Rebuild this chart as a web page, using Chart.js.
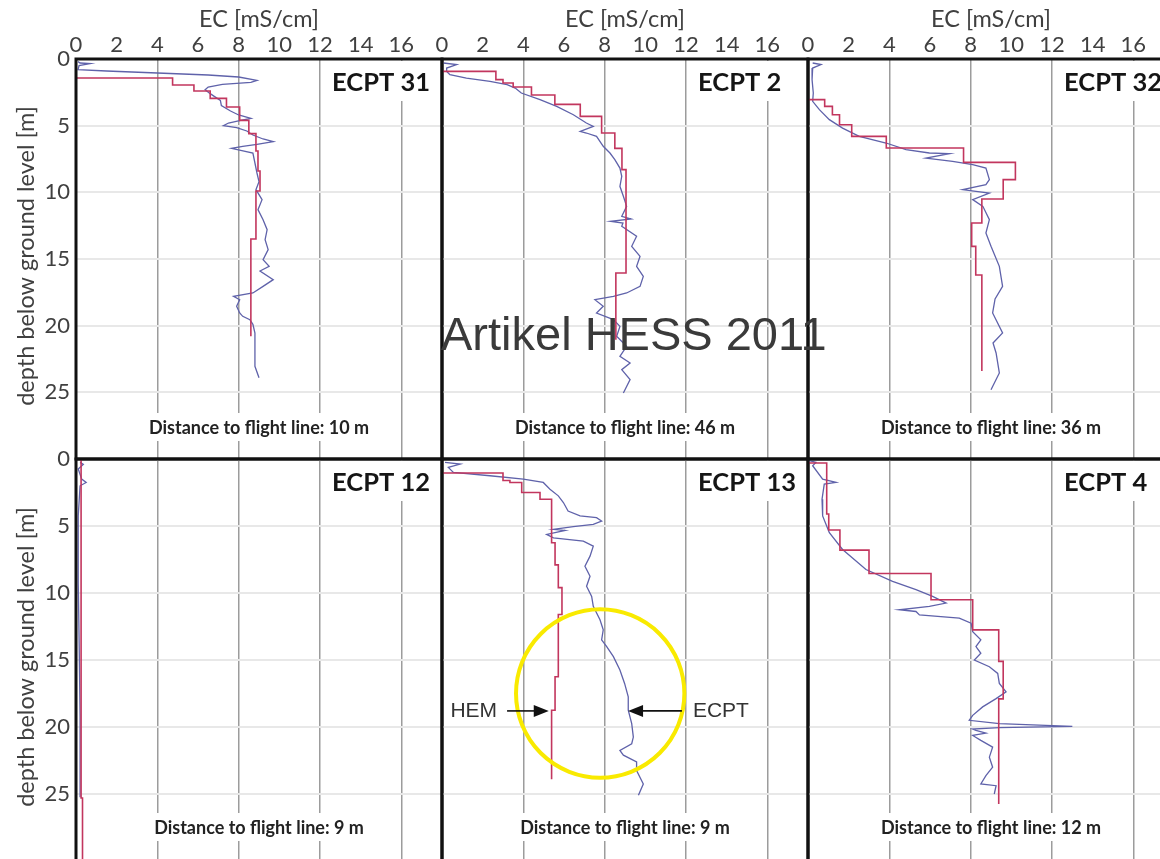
<!DOCTYPE html>
<html>
<head>
<meta charset="utf-8">
<script src="https://cdn.jsdelivr.net/npm/chart.js@4.4.0/dist/chart.umd.min.js"></script>
<style>
  html, body { margin: 0; padding: 0; background: #fff; }
  #wrap { position: relative; width: 1160px; height: 859px; overflow: hidden; background: #fff; }
  #wrap canvas { position: absolute; left: 0; top: 0; }
  #stamp {
    position: absolute; left: 441px; top: 310px;
    font: 47px "Liberation Sans", Arial, sans-serif; line-height: 47px;
    color: #3a3a3a; white-space: nowrap;
  }
</style>
</head>
<body>
<div id="wrap">
  <canvas id="p31" width="1200" height="900"></canvas>
  <canvas id="p2" width="1200" height="900"></canvas>
  <canvas id="p32" width="1200" height="900"></canvas>
  <canvas id="p12" width="1200" height="900"></canvas>
  <canvas id="p13" width="1200" height="900"></canvas>
  <canvas id="p4" width="1200" height="900"></canvas>
  <div id="stamp">Artikel HESS 2011</div>
</div>
<script>
// ---- data (depth in m, EC in mS/cm) ----
const xTicksMax = 16;
const xTitle = 'EC [mS/cm]';
const yTitle = 'depth below ground level [m]';

// ECPT 31
const hem31Depth = [0, 1.43, 1.95, 2.4, 2.95, 3.6, 4.6, 5.6, 6.9, 8.4, 9.9, 13.5];
const hem31EC    = [0, 4.75, 5.8, 6.6, 7.4, 8.05, 8.5, 8.85, 8.95, 9.05, 8.85, 8.6];
const hem31End = 20.8;
const ecpt31Depth = [0.2, 0.3, 0.35, 0.5, 0.8, 0.9, 1.05, 1.2, 1.35, 1.6, 1.75, 1.9, 2.1, 2.3, 2.6, 2.8, 3.1, 3.5, 3.9, 4.2, 4.45, 4.6, 4.8, 5.0, 5.15, 5.4, 5.7, 6.0, 6.2, 6.4, 6.55, 6.7, 6.85, 7.05, 7.8, 8.55, 9.2, 9.8, 10.55, 11.3, 12.05, 12.8, 13.55, 14.3, 15.05, 15.55, 15.9, 16.55, 17.05, 17.55, 17.8, 18.05, 18.55, 19.05, 19.3, 19.55, 19.9, 20.55, 21.8, 23.05, 23.9];
const ecpt31EC    = [0.1, 0.2, 0.7, 0.15, 0.1, 1.5, 4.0, 6.5, 8.0, 8.9, 8.6, 7.2, 6.5, 6.35, 6.6, 6.8, 7.1, 7.15, 7.6, 8.0, 8.6, 8.1, 7.5, 7.25, 7.9, 8.4, 8.7, 9.2, 9.7, 8.9, 8.2, 7.65, 8.1, 8.7, 8.8, 8.9, 9.0, 8.85, 9.15, 8.95, 9.2, 9.4, 9.3, 9.45, 9.2, 9.5, 9.05, 9.7, 9.2, 8.7, 7.75, 8.05, 7.9, 8.05, 8.2, 8.55, 8.7, 8.8, 8.8, 8.8, 9.0];

// ECPT 2
const hem2Depth = [0, 0.93, 1.55, 1.8, 2.1, 2.7, 3.4, 4.3, 5.55, 6.7, 8.3, 16.05];
const hem2EC    = [0, 2.65, 3.0, 3.5, 4.4, 5.55, 6.8, 7.85, 8.5, 8.85, 9.05, 8.55];
const hem2End = 21.05;
const ecpt2Depth = [0.3, 0.42, 0.68, 0.93, 1.18, 1.43, 1.68, 1.93, 2.18, 2.55, 3.05, 3.55, 4.18, 4.8, 5.05, 5.43, 5.55, 5.8, 6.55, 7.05, 7.55, 8.18, 8.8, 9.55, 10.3, 11.05, 11.8, 12.0, 12.18, 12.3, 12.55, 13.3, 14.05, 14.8, 15.55, 16.3, 17.05, 17.55, 17.8, 18.05, 18.55, 19.05, 19.55, 20.05, 20.8, 21.55, 22.3, 22.8, 23.3, 24.05, 25.05];
const ecpt2EC    = [0.07, 0.72, 0.23, 0.23, 0.39, 1.2, 2.36, 3.2, 3.6, 3.9, 4.82, 5.64, 6.46, 7.1, 7.44, 6.8, 7.1, 7.6, 7.93, 8.26, 8.5, 8.75, 8.84, 8.75, 8.92, 9.08, 8.84, 9.3, 8.3, 8.9, 8.84, 9.57, 9.33, 9.74, 9.57, 9.9, 9.74, 9.08, 8.43, 7.52, 7.93, 7.6, 8.43, 8.75, 8.59, 9.08, 8.75, 9.25, 8.84, 9.25, 8.92];

// ECPT 32
const hem32Depth = [0, 3.05, 3.55, 4.18, 4.93, 5.8, 6.68, 7.75, 9.05, 10.5, 12.3, 14.05, 16.2];
const hem32EC    = [0, 0.82, 1.2, 1.55, 2.15, 3.85, 7.65, 10.2, 9.6, 8.55, 8.05, 8.25, 8.55];
const hem32End = 23.4;
const ecpt32Depth = [0.3, 0.42, 0.68, 1.55, 2.55, 3.18, 3.8, 4.55, 5.18, 5.8, 6.3, 6.8, 7.05, 7.1, 7.43, 7.68, 7.93, 8.18, 9.05, 9.43, 9.8, 9.93, 10.05, 10.55, 11.05, 12.05, 13.05, 14.05, 15.55, 17.05, 18.0, 19.05, 20.55, 21.3, 22.05, 23.55, 24.8];
const ecpt32EC    = [0.23, 0.64, 0.23, 0.2, 0.26, 0.23, 0.56, 1.05, 1.7, 2.52, 3.84, 4.82, 5.97, 6.95, 5.8, 7.11, 8.1, 8.75, 8.92, 8.75, 7.61, 8.26, 8.92, 8.1, 8.6, 8.92, 8.75, 9.0, 9.41, 9.57, 9.2, 9.08, 9.57, 9.1, 9.25, 9.41, 9.0];

// ECPT 12
const hem12Depth = [0, 25.3];
const hem12EC    = [0.25, 0.32];
const hem12End = 30;
const ecpt12Depth = [0.25, 0.4, 0.75, 1.5, 1.75, 2.0, 4.25, 9.25, 14.25, 19.25, 25.25];
const ecpt12EC    = [0.2, 0.36, 0.11, 0.28, 0.5, 0.2, 0.11, 0.11, 0.16, 0.2, 0.2];

// ECPT 13
const hem13Depth = [0, 1.05, 1.6, 1.75, 2.5, 3.0, 6.25, 7.9, 9.6, 11.6, 16.25, 18.75];
const hem13EC    = [0, 3.0, 3.34, 3.92, 4.82, 5.39, 5.56, 5.72, 5.9, 5.72, 5.56, 5.39];
const hem13End = 23.9;
const ecpt13Depth = [0.25, 0.38, 0.63, 1.0, 1.25, 1.5, 1.75, 2.25, 2.75, 3.25, 3.88, 4.25, 4.38, 4.63, 4.88, 5.05, 5.25, 5.33, 5.63, 5.88, 6.13, 6.5, 7.25, 8.0, 8.75, 9.5, 10.25, 11.0, 12.0, 12.75, 13.5, 14.0, 14.75, 15.75, 16.75, 17.75, 18.75, 19.75, 20.75, 21.25, 21.75, 22.1, 22.6, 23.25, 24.25, 25.1];
const ecpt13EC    = [0.15, 0.9, 0.31, 0.56, 2.36, 4.0, 4.98, 5.31, 5.72, 5.97, 6.2, 6.79, 7.6, 7.85, 7.44, 6.46, 5.48, 6.05, 5.15, 5.48, 6.95, 7.44, 7.28, 7.03, 7.28, 7.11, 7.36, 7.44, 7.77, 7.93, 7.85, 8.1, 8.43, 8.75, 8.98, 9.16, 9.16, 9.33, 9.41, 9.33, 8.75, 8.92, 9.57, 9.57, 9.9, 9.66];

// ECPT 4
const hem4Depth = [0, 0.3, 4.1, 5.3, 6.8, 8.55, 10.5, 12.75, 15.1, 17.9];
const hem4EC    = [0, 0.92, 1.02, 1.57, 3.0, 6.05, 8.1, 9.38, 9.6, 9.38];
const hem4End = 25.75;
const ecpt4Depth = [0.13, 0.25, 0.5, 1.5, 1.75, 1.88, 3.0, 4.25, 5.5, 6.75, 8.25, 9.13, 9.75, 10.25, 10.75, 11.0, 11.25, 11.38, 11.63, 11.88, 12.25, 12.88, 13.5, 14.0, 14.5, 15.0, 15.5, 16.0, 16.75, 17.38, 17.88, 18.5, 19.13, 19.5, 19.75, 19.95, 20.05, 20.15, 20.25, 20.45, 20.63, 21.0, 21.5, 22.25, 23.0, 23.63, 24.25, 24.38, 25.0];
const ecpt4EC    = [0.07, 0.39, 0.23, 0.72, 1.38, 0.8, 0.69, 0.72, 1.05, 1.7, 2.85, 4.16, 5.31, 6.13, 6.79, 5.97, 4.49, 5.31, 5.48, 7.44, 8.02, 8.1, 8.5, 8.26, 8.5, 8.18, 8.92, 9.33, 9.41, 9.74, 9.25, 8.59, 8.1, 7.93, 9.41, 13.0, 9.41, 8.1, 8.26, 8.75, 8.1, 8.5, 9.08, 8.92, 9.08, 8.75, 8.5, 9.25, 9.16];

// annotation of ECPT 13 (data units)
const ringCenter = [7.78, 17.5];
const ringRadiusEC = 4.14;
const hemArrow = { text: 'HEM', from: 3.2, to: 5.25, depth: 18.8 };
const ecptArrow = { text: 'ECPT', from: 11.8, to: 9.15, depth: 18.8 };

// ---- layout ----
const colLeft = [76, 442, 808];
const rowTop = [59, 459];
const rowHeight = [400, 402];
const panelWidth = 366;
const CW = 1200, CH = 900;

const fontFamily = 'Lato, "Open Sans", sans-serif';
const hemColor = '#c2365e';
const ecptColor = '#5f62aa';

function toPoints(depths, ecs) {
  return depths.map((d, i) => ({ x: ecs[i], y: d }));
}
function hemPoints(depths, ecs, end) {
  const pts = toPoints(depths, ecs);
  pts.push({ x: ecs[ecs.length - 1], y: end });
  return pts;
}

// frame round each panel
const framePlugin = {
  id: 'frame',
  afterDraw(chart) {
    const { ctx, chartArea: a } = chart;
    ctx.save();
    ctx.strokeStyle = '#111';
    ctx.lineWidth = 3;
    ctx.strokeRect(a.left, a.top, a.right - a.left, a.bottom - a.top);
    ctx.restore();
  }
};

// panel name, distance text, y title
const labelPlugin = {
  id: 'labels',
  beforeDatasetsDraw(chart, args, opts) {
    const { ctx, chartArea: a } = chart;
    ctx.save();
    ctx.fillStyle = '#fff';
    ctx.fillRect(a.left + 250, a.top + 2, a.right - a.left - 252, 40);
    ctx.font = 'bold 25.5px ' + fontFamily;
    ctx.fillStyle = '#151515';
    ctx.textAlign = 'left';
    ctx.textBaseline = 'middle';
    ctx.fillText(opts.name, a.left + 256, a.top + 24);

    ctx.font = 'bold 18px ' + fontFamily;
    const w = ctx.measureText(opts.distance).width;
    const cx = (a.left + a.right) / 2;
    ctx.fillStyle = '#fff';
    ctx.fillRect(cx - w / 2 - 5, a.top + 354, w + 10, 28);
    ctx.fillStyle = '#222';
    ctx.textAlign = 'center';
    ctx.fillText(opts.distance, cx, a.top + 369);

    if (opts.yTitle) {
      ctx.save();
      ctx.translate(a.left - 50, (a.top + a.bottom) / 2 - 3);
      ctx.rotate(-Math.PI / 2);
      ctx.font = '23.5px ' + fontFamily;
      ctx.fillStyle = '#404040';
      ctx.textAlign = 'center';
      ctx.textBaseline = 'middle';
      ctx.fillText(yTitle, 0, 0);
      ctx.restore();
    }
    ctx.restore();
  }
};

function drawArrow(ctx, x1, x2, y) {
  const dir = x2 > x1 ? 1 : -1;
  ctx.beginPath();
  ctx.moveTo(x1, y);
  ctx.lineTo(x2 - dir * 12, y);
  ctx.stroke();
  ctx.beginPath();
  ctx.moveTo(x2, y);
  ctx.lineTo(x2 - dir * 15, y - 6);
  ctx.lineTo(x2 - dir * 15, y + 6);
  ctx.closePath();
  ctx.fill();
}

const notePlugin = {
  id: 'note',
  afterDatasetsDraw(chart, args, opts) {
    if (!opts.show) return;
    const { ctx, scales: { x, y } } = chart;
    ctx.save();
    const cx = x.getPixelForValue(ringCenter[0]);
    const cy = y.getPixelForValue(ringCenter[1]);
    const r = x.getPixelForValue(ringCenter[0] + ringRadiusEC) - cx;
    ctx.strokeStyle = '#f9ea00';
    ctx.lineWidth = 4;
    ctx.beginPath();
    ctx.arc(cx, cy, r, 0, Math.PI * 2);
    ctx.stroke();

    ctx.strokeStyle = '#111';
    ctx.fillStyle = '#111';
    ctx.lineWidth = 1.6;
    const hy = y.getPixelForValue(hemArrow.depth);
    drawArrow(ctx, x.getPixelForValue(hemArrow.from), x.getPixelForValue(hemArrow.to), hy);
    const ey = y.getPixelForValue(ecptArrow.depth);
    drawArrow(ctx, x.getPixelForValue(ecptArrow.from), x.getPixelForValue(ecptArrow.to), ey);

    ctx.font = '21px "Liberation Sans", Arial, sans-serif';
    ctx.fillStyle = '#333';
    ctx.textBaseline = 'middle';
    ctx.textAlign = 'right';
    ctx.fillText(hemArrow.text, x.getPixelForValue(hemArrow.from) - 10, hy);
    ctx.textAlign = 'left';
    ctx.fillText(ecptArrow.text, x.getPixelForValue(ecptArrow.from) + 11, ey);
    ctx.restore();
  }
};

function makePanel(id, col, row, name, distance, hem, ecpt, note) {
  const showX = row === 0;
  const showY = col === 0;
  const L = colLeft[col], T = rowTop[row], H = rowHeight[row];
  const yw = showY ? 76 : 0;
  const xh = showX ? 59 : 0;
  new Chart(document.getElementById(id), {
    type: 'scatter',
    data: {
      datasets: [
        {
          label: 'HEM', data: hem, showLine: true, stepped: 'after',
          borderColor: hemColor, borderWidth: 1.6, pointRadius: 0, fill: false
        },
        {
          label: 'ECPT', data: ecpt, showLine: true,
          borderColor: ecptColor, borderWidth: 1.3, pointRadius: 0, fill: false, tension: 0
        }
      ]
    },
    options: {
      responsive: false,
      animation: false,
      events: [],
      devicePixelRatio: 1,
      layout: { padding: { left: L - yw, top: T - xh, right: CW - L - panelWidth, bottom: CH - T - H } },
      plugins: {
        legend: { display: false },
        tooltip: { enabled: false },
        labels: { name: name, distance: distance, yTitle: showY },
        note: { show: !!note }
      },
      scales: {
        x: {
          type: 'linear', position: 'top', min: 0, max: 18,
          afterFit(s) { s.height = xh; s.paddingLeft = 0; s.paddingRight = 0; },
          border: { display: false },
          grid: {
            drawTicks: false, lineWidth: 1.5,
            color: ctx => (ctx.tick && ctx.tick.value % 4 === 0 && ctx.tick.value > 0 && ctx.tick.value < 18) ? '#9c9c9c' : 'rgba(0,0,0,0)'
          },
          ticks: {
            display: showX, stepSize: 2, autoSkip: false, maxRotation: 0, padding: 1,
            color: '#404040', font: { family: fontFamily, size: 22 },
            callback: v => (v <= xTicksMax ? v : '')
          },
          title: {
            display: showX, text: xTitle, color: '#404040',
            font: { family: fontFamily, size: 23.5 }, padding: { top: 5, bottom: 0 }
          }
        },
        y: {
          type: 'linear', position: 'left', min: 0, max: 30, reverse: true,
          afterFit(s) { s.width = yw; s.paddingTop = 0; s.paddingBottom = 0; },
          border: { display: false },
          grid: {
            drawTicks: false, lineWidth: 2,
            color: ctx => (ctx.tick && ctx.tick.value > 0 && ctx.tick.value < 30) ? '#e8e8e8' : 'rgba(0,0,0,0)'
          },
          ticks: {
            display: showY, stepSize: 5, padding: 6,
            color: '#404040', font: { family: fontFamily, size: 22 },
            callback: v => (v <= 25 ? v : '')
          },
          title: { display: false }
        }
      }
    },
    plugins: [labelPlugin, notePlugin, framePlugin]
  });
}

makePanel('p31', 0, 0, 'ECPT 31', 'Distance to flight line: 10 m',
  hemPoints(hem31Depth, hem31EC, hem31End), toPoints(ecpt31Depth, ecpt31EC), false);
makePanel('p2', 1, 0, 'ECPT 2', 'Distance to flight line: 46 m',
  hemPoints(hem2Depth, hem2EC, hem2End), toPoints(ecpt2Depth, ecpt2EC), false);
makePanel('p32', 2, 0, 'ECPT 32', 'Distance to flight line: 36 m',
  hemPoints(hem32Depth, hem32EC, hem32End), toPoints(ecpt32Depth, ecpt32EC), false);
makePanel('p12', 0, 1, 'ECPT 12', 'Distance to flight line: 9 m',
  hemPoints(hem12Depth, hem12EC, hem12End), toPoints(ecpt12Depth, ecpt12EC), false);
makePanel('p13', 1, 1, 'ECPT 13', 'Distance to flight line: 9 m',
  hemPoints(hem13Depth, hem13EC, hem13End), toPoints(ecpt13Depth, ecpt13EC), true);
makePanel('p4', 2, 1, 'ECPT 4', 'Distance to flight line: 12 m',
  hemPoints(hem4Depth, hem4EC, hem4End), toPoints(ecpt4Depth, ecpt4EC), false);
</script>
</body>
</html>
